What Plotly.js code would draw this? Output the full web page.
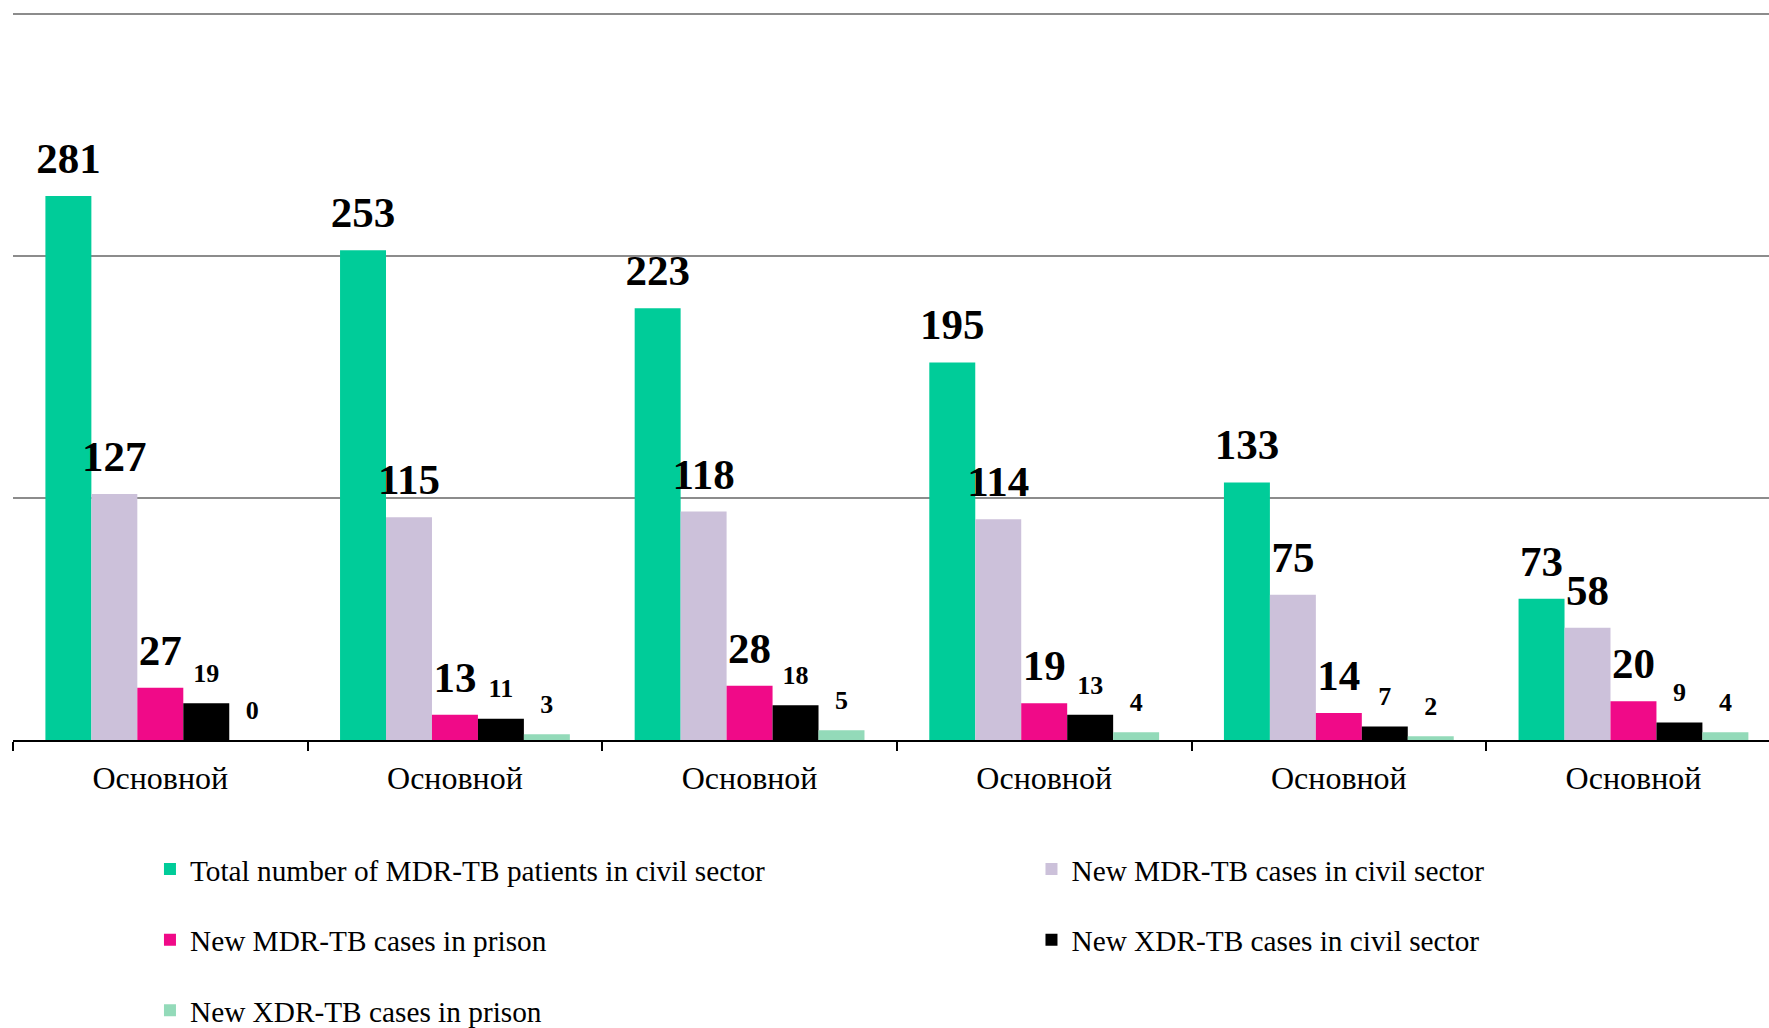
<!DOCTYPE html>
<html>
<head>
<meta charset="utf-8">
<script src="https://cdn.plot.ly/plotly-3.0.1.min.js"></script>
<style>html,body{margin:0;padding:0;background:#fff;}#chart{width:1769px;height:1028px;}</style>
</head>
<body>
<div id="chart"></div>
<script>
const categories = ["Основной", "Основной", "Основной", "Основной", "Основной", "Основной"];
const seriesNames = [
  "Total number of MDR-TB patients in civil sector",
  "New MDR-TB cases in civil sector",
  "New MDR-TB cases in prison",
  "New XDR-TB cases in civil sector",
  "New XDR-TB cases in prison"
];
const totalMdrCivil = [281, 253, 223, 195, 133, 73];
const newMdrCivil = [127, 115, 118, 114, 75, 58];
const newMdrPrison = [27, 13, 28, 19, 14, 20];
const newXdrCivil = [19, 11, 18, 13, 7, 9];
const newXdrPrison = [0, 3, 5, 4, 2, 4];
const yTicks = [0, 125, 250, 375];

const seriesValues = [totalMdrCivil, newMdrCivil, newMdrPrison, newXdrCivil, newXdrPrison];
const colors = ["#00CC99", "#CCC1DA", "#F00A88", "#000000", "#93DAB9"];
const labelSizes = [43, 43, 43, 26, 26];
const labelLift = [18, 18, 18, 22, 22];
const legendFor = ["legend", "legend2", "legend", "legend2", "legend"];
const serif = "Liberation Serif, Times New Roman, serif";

const xPos = categories.map((c, i) => i);
const boundaries = categories.map((c, i) => i - 0.5).concat([categories.length - 0.5]);

const traces = seriesValues.map((vals, k) => ({
  type: "bar",
  name: seriesNames[k],
  x: xPos,
  y: vals,
  marker: {color: colors[k], line: {width: 0}},
  legend: legendFor[k],
  legendgroup: "g" + k,
  hoverinfo: "skip"
}));

// value labels: grouped scatter traces aligned with the grouped bars
seriesValues.forEach((vals, k) => {
  traces.push({
    type: "scatter",
    mode: "markers+text",
    x: xPos,
    y: vals,
    marker: {size: labelLift[k], opacity: 0},
    text: vals.map(String),
    textposition: "top center",
    textfont: {family: serif, size: labelSizes[k], color: "#000", weight: "bold"},
    cliponaxis: false,
    showlegend: false,
    hoverinfo: "skip"
  });
});

// invisible helper trace to carry category labels on the overlay axis
traces.push({
  type: "scatter", mode: "none", x: xPos, y: xPos.map(() => 0),
  xaxis: "x2", showlegend: false, hoverinfo: "skip"
});

const legendFont = {family: serif, size: 29.3, color: "#000"};

const layout = {
  width: 1769, height: 1028,
  margin: {l: 13, r: 0, t: 11, b: 288, autoexpand: false},
  paper_bgcolor: "#fff", plot_bgcolor: "#fff",
  barmode: "group",
  bargap: 0.22,
  bargroupgap: 0,
  scattermode: "group",
  scattergap: 0.22,
  showlegend: true,
  xaxis: {
    range: [-0.5, 5.46],
    tickmode: "array",
    tickvals: boundaries,
    ticktext: boundaries.map(() => ""),
    ticks: "outside", ticklen: 9, tickwidth: 2, tickcolor: "#000",
    showline: true, linecolor: "#000", linewidth: 2,
    showgrid: false, zeroline: false, fixedrange: true
  },
  xaxis2: {
    overlaying: "x", matches: "x", side: "bottom",
    range: [-0.5, 5.46],
    tickmode: "array", tickvals: xPos, ticktext: categories,
    ticks: "", showline: false, showgrid: false, zeroline: false,
    tickfont: {family: serif, size: 32, color: "#000"},
    ticklabelstandoff: 16
  },
  yaxis: {
    range: [0, 376.5],
    tickmode: "array", tickvals: yTicks,
    showticklabels: false,
    showgrid: true, gridcolor: "#8C8C8C", gridwidth: 2,
    zeroline: false, showline: false, fixedrange: true
  },
  legend: {
    x: 0.078, xanchor: "left", y: -0.142, yanchor: "top",
    orientation: "v", font: legendFont, tracegroupgap: 29.5,
    itemwidth: 30, bgcolor: "rgba(0,0,0,0)", traceorder: "grouped"
  },
  legend2: {
    x: 0.580, xanchor: "left", y: -0.142, yanchor: "top",
    orientation: "v", font: legendFont, tracegroupgap: 29.5,
    itemwidth: 30, bgcolor: "rgba(0,0,0,0)", traceorder: "grouped"
  }
};

Plotly.newPlot("chart", traces, layout, {displayModeBar: false, staticPlot: true});
</script>
</body>
</html>
